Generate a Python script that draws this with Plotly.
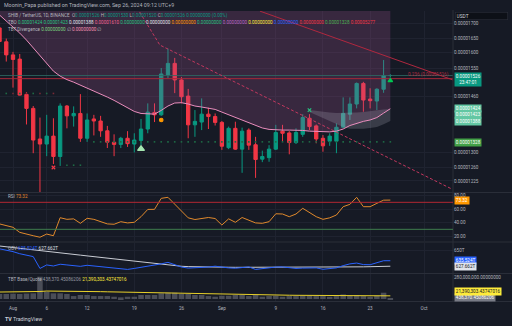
import numpy as np
import pandas as pd
import plotly.graph_objects as go

W, H = 512, 326
E = 1e-8  # prices below are in units of 0.00000001 USDT

dates = pd.date_range("2024-07-30", "2024-09-26", freq="D")

opens = [1685, 1637, 1593, 1579, 1467, 1425, 1337, 1323, 1345, 1289,
         1432, 1403, 1410, 1339, 1394, 1388, 1360, 1328, 1322, 1339,
         1323, 1333, 1365, 1413, 1406, 1528, 1565, 1512, 1462, 1377,
         1385, 1408, 1401, 1384, 1313, 1367, 1309, 1362, 1321, 1282,
         1286, 1309, 1359, 1354, 1327, 1350, 1396, 1374, 1339, 1331,
         1331, 1370, 1408, 1438, 1501, 1453, 1447, 1483, 1526]
highs = [1706, 1648, 1603, 1596, 1474, 1432, 1398, 1406, 1396, 1440,
         1435, 1431, 1468, 1410, 1406, 1403, 1374, 1350, 1343, 1359,
         1353, 1394, 1440, 1440, 1550, 1614, 1583, 1521, 1484, 1420,
         1455, 1427, 1410, 1388, 1372, 1386, 1369, 1367, 1343, 1305,
         1320, 1377, 1377, 1359, 1367, 1408, 1408, 1378, 1348, 1353,
         1381, 1458, 1458, 1504, 1506, 1486, 1486, 1576, 1530]
lows = [1630, 1571, 1488, 1464, 1378, 1298, 1090, 1290, 1269, 1264,
        1367, 1372, 1329, 1329, 1347, 1343, 1312, 1290, 1312, 1315,
        1300, 1320, 1353, 1385, 1403, 1517, 1471, 1440, 1339, 1343,
        1362, 1365, 1375, 1307, 1309, 1307, 1246, 1307, 1233, 1274,
        1275, 1307, 1329, 1295, 1323, 1343, 1362, 1325, 1302, 1318,
        1298, 1368, 1391, 1425, 1415, 1425, 1420, 1472, 1520]
closes = [1638, 1593, 1578, 1465, 1425, 1334, 1323, 1345, 1289, 1432,
          1403, 1410, 1339, 1391, 1388, 1360, 1328, 1322, 1339, 1324,
          1334, 1365, 1414, 1406, 1531, 1565, 1512, 1460, 1377, 1387,
          1408, 1401, 1384, 1317, 1367, 1309, 1359, 1320, 1281, 1289,
          1309, 1355, 1353, 1327, 1355, 1398, 1372, 1337, 1318, 1345,
          1370, 1410, 1438, 1501, 1450, 1448, 1483, 1526, 1526]

tbo_fast = [1731, 1710, 1688, 1667, 1643, 1616, 1589, 1563, 1540, 1524,
            1513, 1505, 1496, 1487, 1478, 1470, 1459, 1449, 1438, 1426,
            1416, 1410, 1408, 1408, 1419, 1432, 1441, 1442, 1438, 1432,
            1429, 1426, 1422, 1414, 1406, 1398, 1391, 1382, 1374, 1368,
            1364, 1362, 1362, 1362, 1362, 1361, 1359, 1358, 1357, 1357,
            1359, 1365, 1375, 1382, 1387, 1391, 1398, 1411, 1424]
cloud_dates = pd.date_range("2024-09-14", "2024-09-26", freq="D")
tbo_medium = [1420, 1417, 1414, 1413, 1411, 1411, 1411, 1413, 1414, 1417, 1420, 1422, 1423]
tbo_slow = [1414, 1405, 1397, 1388, 1379, 1371, 1366, 1365, 1366, 1368, 1371, 1379, 1388]

rsi = [38, 35, 33, 25.5, 23.5, 20.5, 18.3, 23, 20.5, 47.2,
       44.8, 45.5, 38.9, 46.3, 44.8, 41, 38, 37.5, 41.3, 39.5,
       40.4, 48.7, 59.5, 59.6, 75.9, 77.4, 67, 58, 47, 44.5,
       46.3, 47.5, 46, 36.4, 45.5, 40.4, 47.5, 43, 39.5, 38.9,
       41.3, 53, 52.7, 48.7, 52.7, 61.1, 55, 48.7, 44.8, 47,
       51.2, 63.5, 67, 77.4, 63.5, 63.5, 68.5, 73.2, 73.32]

obv = [652.5, 650.7, 648.5, 645.5, 643.8, 641.4, 624.5, 629.5, 628, 630.5,
       629.5, 628.5, 627.5, 629, 628, 626.7, 625.5, 624.5, 623.1, 623.1,
       624.5, 626, 627.5, 628.5, 631, 633.2, 630, 626.5, 625, 625.3,
       626, 626.5, 627.7, 626, 625.3, 624.8, 626, 626.7, 623.1, 624.3,
       625.3, 626.5, 626.7, 625.8, 624.5, 625, 625.5, 625.3, 623.3, 624,
       625.3, 628.5, 631, 632.2, 630, 629.8, 632.2, 635.5, 635.524]
obv_ma = [656.5, 655.5, 654.5, 653.5, 652.3, 651.2, 650, 649, 648, 646.8,
          645.7, 644.6, 643.5, 642.4, 641.3, 640.2, 639, 638, 636.8, 635.7,
          634.6, 633.5, 632.4, 631.3, 630.2, 629.2, 628.3, 627.6, 627.1, 626.8,
          626.6, 626.5, 626.4, 626.3, 626.2, 626.1, 626.1, 626, 626, 625.9,
          625.9, 625.9, 625.9, 625.9, 625.9, 625.9, 625.9, 626, 626, 626,
          626.1, 626.2, 626.4, 626.6, 626.8, 627, 627.2, 627.5, 627.662]

volume_m = [66, 66, 70, 66, 72, 75, 293, 96, 75, 75,
            66, 39, 53, 53, 39, 39, 39, 30, 22, 30,
            30, 53, 53, 53, 75, 83, 83, 66, 66, 53,
            53, 39, 30, 43, 43, 53, 53, 39, 53, 30,
            39, 43, 30, 39, 39, 43, 43, 39, 39, 30,
            39, 60, 43, 53, 39, 30, 43, 83, 5]
volume_ma_m = [92, 92, 92, 92, 92, 92, 99, 105, 105, 105,
               104, 104, 102, 101, 100, 97, 95, 93, 91, 88,
               86, 84, 82, 80, 79, 78, 77, 75, 73, 71,
               69, 67, 65, 62, 60, 58, 57, 56, 55, 54,
               53, 52, 51, 50, 49, 48, 48, 47, 47, 46,
               46, 45, 45, 44, 44, 43, 43, 42, 42]

# drawings
trend_dates = ["2024-08-19 19:00", "2024-08-22 19:00", "2024-10-05 02:00"]
trend_prices = [1742, 1626, 1205]
resist_dates = ["2024-09-06 15:30", "2024-10-05 07:00"]
resist_prices = [1745, 1512]
fib_level = 1516
last_price = 1526

# TBO dot rows
dotsA_dates = pd.date_range("2024-08-13", "2024-09-26", freq="D")
dotsA_price = 1329
dotsB_dates = pd.date_range("2024-07-31", "2024-08-07", freq="D")
dotsB_price = 1470
dotsC_dates = pd.date_range("2024-08-09", "2024-08-11", freq="D")
dotsC_price = 1266

# signal markers
sig_red_x = ("2024-08-07", 1260)
sig_tri1 = ("2024-08-20", 1310)
sig_orange = ("2024-08-23", 1391)
sig_green_x = ("2024-09-14", 1420)
sig_tri2 = ("2024-09-26", 1510)

price_ticks = [1700, 1650, 1600, 1550, 1460, 1300, 1260, 1225]
date_ticks = ["2024-08-01", "2024-08-06", "2024-08-12", "2024-08-19", "2024-08-26",
              "2024-09-01", "2024-09-09", "2024-09-16", "2024-09-23", "2024-10-01"]
date_labels = ["Aug", "6", "12", "19", "26", "Sep", "9", "16", "23", "Oct"]

BG = "#161a25"
GRID = "#1f2330"
TXT = "#b2b5be"
UP = "#089981"
DN = "#f23645"
FONT = "Roboto"


def py(px):
    return 1 - px / H


def px_x(px):
    return px / W


P = lambda seq: [v * E for v in seq]

t0 = pd.Timestamp("2024-08-01")
x_range = [t0 - pd.Timedelta(days=1.93), t0 + pd.Timedelta(days=65.3)]
XD = [0, 453 / W]

fig = go.Figure()

# shaded TBO zone (fast line up to the top of the pane)
ceiling = [2000] * len(dates)
fig.add_trace(go.Scatter(x=dates, y=P(ceiling), mode="lines", line=dict(width=0),
                         showlegend=False, hoverinfo="skip"))
fig.add_trace(go.Scatter(x=dates, y=P(tbo_fast), mode="lines", fill="tonexty",
                         fillcolor="rgba(175,85,150,0.23)", line=dict(width=0),
                         showlegend=False, hoverinfo="skip"))
# grey cloud
fig.add_trace(go.Scatter(x=cloud_dates, y=P(tbo_slow), mode="lines", line=dict(width=0),
                         showlegend=False, hoverinfo="skip"))
fig.add_trace(go.Scatter(x=cloud_dates, y=P(tbo_medium), mode="lines", fill="tonexty",
                         fillcolor="rgba(200,200,215,0.20)", line=dict(width=0),
                         showlegend=False, hoverinfo="skip"))

# horizontal levels
fig.add_trace(go.Scatter(x=x_range, y=[fib_level * E] * 2, mode="lines",
                         line=dict(color="#a8283a", width=1), showlegend=False, hoverinfo="skip"))
fig.add_trace(go.Scatter(x=x_range, y=[last_price * E] * 2, mode="lines",
                         line=dict(color="#2d6b63", width=0.8), showlegend=False, hoverinfo="skip"))
# drawn lines
fig.add_trace(go.Scatter(x=trend_dates, y=P(trend_prices), mode="lines",
                         line=dict(color="#c2375e", width=1, dash="3px,2px"),
                         showlegend=False, hoverinfo="skip"))
fig.add_trace(go.Scatter(x=resist_dates, y=P(resist_prices), mode="lines",
                         line=dict(color="#b0283f", width=1), showlegend=False, hoverinfo="skip"))

# dot rows
fig.add_trace(go.Scatter(x=dotsA_dates, y=[dotsA_price * E] * len(dotsA_dates), mode="markers",
                         marker=dict(symbol="square", size=1.6, color="#1e6a45"),
                         showlegend=False, hoverinfo="skip"))
fig.add_trace(go.Scatter(x=dotsB_dates, y=[dotsB_price * E] * len(dotsB_dates), mode="markers",
                         marker=dict(symbol="square", size=1.6,
                                     color=["#1e6a45", "#7a2a36"] * 4),
                         showlegend=False, hoverinfo="skip"))
fig.add_trace(go.Scatter(x=dotsC_dates, y=[dotsC_price * E] * len(dotsC_dates), mode="markers",
                         marker=dict(symbol="square", size=1.6, color="#1e6a45"),
                         showlegend=False, hoverinfo="skip"))

# pink TBO fast line
fig.add_trace(go.Scatter(x=dates, y=P(tbo_fast), mode="lines",
                         line=dict(color="#ea8dbd", width=1), showlegend=False, hoverinfo="skip"))

# candles
fig.add_trace(go.Candlestick(x=dates, open=P(opens), high=P(highs), low=P(lows), close=P(closes),
                             increasing=dict(line=dict(color=UP, width=1), fillcolor=UP),
                             decreasing=dict(line=dict(color=DN, width=1), fillcolor=DN),
                             showlegend=False, hoverinfo="skip"))

# signals
for (d, v), sym, col, sz in [(sig_red_x, "x-thin", "#f23645", 3.5),
                             (sig_tri1, "triangle-up", "#a5e6b0", 6),
                             (sig_orange, "circle", "#ff9800", 3.5),
                             (sig_green_x, "x-thin", "#26c281", 3.5),
                             (sig_tri2, "triangle-up", "#00c853", 4)]:
    fig.add_trace(go.Scatter(x=[d], y=[v * E], mode="markers",
                             marker=dict(symbol=sym, size=sz, color=col,
                                         line=dict(color=col, width=1.2)),
                             showlegend=False, hoverinfo="skip"))

# RSI pane
fig.add_trace(go.Scatter(x=dates, y=rsi, mode="lines", line=dict(color="#e0892c", width=1),
                         xaxis="x2", yaxis="y2", showlegend=False, hoverinfo="skip"))
# OBV pane
fig.add_trace(go.Scatter(x=dates, y=obv_ma, mode="lines", line=dict(color="#c9ccd4", width=1),
                         xaxis="x3", yaxis="y3", showlegend=False, hoverinfo="skip"))
fig.add_trace(go.Scatter(x=dates, y=obv, mode="lines", line=dict(color="#2962ff", width=1),
                         xaxis="x3", yaxis="y3", showlegend=False, hoverinfo="skip"))
# volume pane
fig.add_trace(go.Bar(x=dates, y=volume_m, marker=dict(color="#4a4d57", line=dict(width=0)),
                     width=0.82 * 86400000, xaxis="x4", yaxis="y4", showlegend=False, hoverinfo="skip"))
fig.add_trace(go.Scatter(x=dates, y=volume_ma_m, mode="lines", line=dict(color="#e8d12a", width=1),
                         xaxis="x4", yaxis="y4", showlegend=False, hoverinfo="skip"))

tickfont = dict(family=FONT, size=4.6, color=TXT)
xcommon = dict(range=x_range, type="date", domain=XD, showgrid=True, gridcolor=GRID, gridwidth=1,
               tickvals=date_ticks, ticktext=date_labels, zeroline=False, showline=False,
               ticks="", fixedrange=True)

lo, hi = 1197.2 * E, 1745.5 * E
fig.update_layout(
    width=W, height=H, margin=dict(l=0, r=0, t=0, b=0),
    paper_bgcolor=BG, plot_bgcolor=BG,
    bargap=0.1, showlegend=False,
    xaxis=dict(**xcommon, anchor="y", showticklabels=False, rangeslider=dict(visible=False)),
    xaxis2=dict(**xcommon, anchor="y2", matches="x", showticklabels=False),
    xaxis3=dict(**xcommon, anchor="y3", matches="x", showticklabels=False),
    xaxis4=dict(**xcommon, anchor="y4", matches="x", showticklabels=True, tickfont=tickfont,
                ticklabelstandoff=3),
    yaxis=dict(domain=[py(192), py(11)], type="log", range=[np.log10(lo), np.log10(hi)],
               side="right", anchor="x", tickvals=P(price_ticks),
               ticktext=["0.0000%d" % v for v in price_ticks], tickfont=tickfont,
               showgrid=True, gridcolor=GRID, zeroline=False, ticks=""),
    yaxis2=dict(domain=[py(241), py(193)], range=[12.7, 83.8], side="right", anchor="x2",
                tickvals=[80, 60, 40, 20], ticktext=["80.00", "60.00", "40.00", "20.00"],
                tickfont=tickfont, showgrid=True, gridcolor=GRID, zeroline=False, ticks=""),
    yaxis3=dict(domain=[py(273), py(243)], range=[618, 660.8], side="right", anchor="x3",
                tickvals=[650], ticktext=["650T"], tickfont=tickfont,
                showgrid=True, gridcolor=GRID, zeroline=False, ticks=""),
    yaxis4=dict(domain=[py(301), py(274)], range=[-26, 329], side="right", anchor="x4",
                tickvals=[280], ticktext=["280,000,000.00000000"], tickfont=tickfont,
                showgrid=False, zeroline=False, ticks=""),
)

shapes = []
for ypx in [192.5, 242, 273.5, 301.5]:
    shapes.append(dict(type="line", xref="paper", yref="paper", x0=0, x1=1,
                       y0=py(ypx), y1=py(ypx), line=dict(color="#2a2e39", width=1)))
shapes.append(dict(type="line", xref="paper", yref="paper", x0=px_x(453), x1=px_x(453),
                   y0=py(301.5), y1=py(10), line=dict(color="#2a2e39", width=1)))
for lvl, col in [(70, "#b22833"), (30, "#3f7d4e")]:
    shapes.append(dict(type="line", xref="x2", yref="y2", x0=x_range[0], x1=x_range[1],
                       y0=lvl, y1=lvl, line=dict(color=col, width=1)))
fig.update_layout(shapes=shapes)

ann = []


def text(xpx, ypx, s, size=4.6, color=TXT, anchor="left"):
    ann.append(dict(xref="paper", yref="paper", x=px_x(xpx), y=py(ypx), text=s, showarrow=False,
                    xanchor=anchor, yanchor="middle", font=dict(family=FONT, size=size, color=color)))


def sp(s, c):
    return "<span style='color:%s'>%s</span>" % (c, s)


text(2, 5, "Moonin_Papa published on TradingView.com, Sep 26, 2024 09:12 UTC+9", size=5.3)
text(6, 15.7, "SHIB / TetherUS, 1D, BINANCE  O" + sp("0.00001526", UP) + " H" + sp("0.00001530", UP)
     + " L" + sp("0.00001520", UP) + " C" + sp("0.00001526", UP) + " " + sp("0.00000000 (0.00%)", UP))
tbo_vals = [("0.00001424", "#26c281"), ("0.00001423", "#26c281"), ("0.00001388", "#e0e3eb"),
            ("0.00001610", "#f06292"), ("0.00000000", "#26c281"), ("0.00000000", "#e0e3eb"),
            ("0.00000000", "#ff9800"), ("0.00000000", "#26c281"), ("0.00000000", "#ba68c8"),
            ("0.00000000", "#ffeb3b"), ("0.00000000", "#2962ff"), ("0.00000000", "#f23645"),
            ("0.00001328", "#4caf50"), ("0.00005277", "#f23645")]
text(6, 22.5, "TBO " + " ".join(sp(v, c) for v, c in tbo_vals))
text(6, 29, "TBT Divergence " + sp("0.00000000", "#7cd67f") + " ∅ " + sp("0.00000000", "#f48fb1") + " ∅")
text(6, 197, "RSI " + sp("73.32", "#e0892c"))
text(6, 248, "OBV " + sp("635.524T", "#2962ff") + " " + sp("627.662T", "#e0e3eb"))
text(6, 279, "TBT Base/Quote " + sp("438,370.45086206", "#9598a1") + " " + sp("21,390,303.43747016", "#ffeb3b"))
text(3, 319, "<b>TV</b> TradingView", size=5.3, color="#d1d4dc")
ann.append(dict(xref="paper", yref="y", x=px_x(451), y=np.log10(fib_level * E), yshift=4,
                text="0.236 (0.00001516)", showarrow=False, xanchor="right",
                font=dict(family=FONT, size=4.6, color="#b0283f")))


def box(yref, yval, s, bg, fg="#ffffff", yshift=0, yanchor="middle"):
    ann.append(dict(xref="paper", yref=yref, x=px_x(454), y=yval, yshift=yshift, text=s,
                    showarrow=False, xanchor="left", yanchor=yanchor, bgcolor=bg, borderpad=0.8,
                    font=dict(family=FONT, size=4.6, color=fg)))


box("y", np.log10(last_price * E), "0.00001526<br>23:47:01", UP, yshift=3.5, yanchor="top")
box("y", np.log10(1424 * E), "0.00001424", "#63c7a3", yshift=0.5)
box("y", np.log10(1423 * E), "0.00001423", "#63c7a3", yshift=-5.6)
box("y", np.log10(1388 * E), "0.00001388", "#63c7a3", yshift=0)
box("y", np.log10(1328 * E), "0.00001328", "#43a047", yshift=0)
box("y2", 73.32, "73.32", "#ff9800")
box("y3", 635.524, "635.524T", "#2962ff")
box("y3", 627.662, "627.662T", "#e0e3eb", fg="#131722", yshift=-0.5)
box("y4", 0.438, "438,370.45086206", "#787b86", yshift=1.3)
box("y4", 0.438, "21,390,303.43747016", "#ffeb3b", fg="#131722", yshift=7)
ann.append(dict(xref="paper", yref="paper", x=px_x(455), y=py(16), text="USDT", showarrow=False,
                xanchor="left", yanchor="middle", bgcolor="#0d1017", bordercolor="#2a2e39",
                borderwidth=0.6, width=50, align="left", borderpad=1,
                font=dict(family=FONT, size=4.8, color="#d1d4dc")))
fig.update_layout(annotations=ann)

fig.write_html("out.html")
